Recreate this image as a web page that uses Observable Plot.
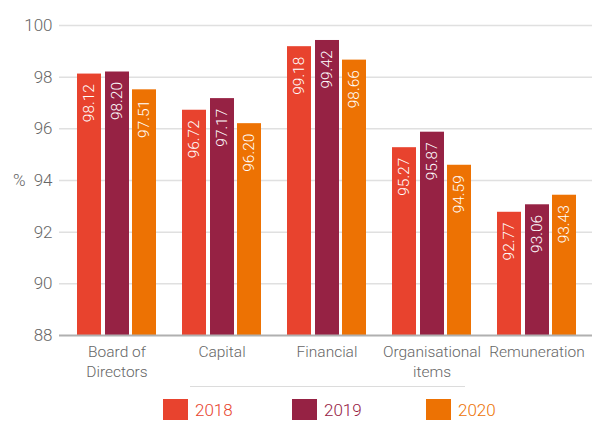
<!DOCTYPE html>
<html>
<head>
<meta charset="utf-8">
<script src="https://cdn.jsdelivr.net/npm/d3@7"></script>
<script src="https://cdn.jsdelivr.net/npm/@observablehq/plot@0.6"></script>
<style>
  body { margin: 0; background: #fff; font-family: Roboto, "Liberation Sans", sans-serif; }
  #legend { position: relative; width: 592px; height: 35px; }
  #legend .sep { position: absolute; left: 190px; top: 0; width: 275px; border-top: 1.5px solid #dcdcdc; }
  #legend .item { position: absolute; top: 13px; display: flex; align-items: center; font-size: 17px; font-weight: 300; }
  #legend .sw { width: 25px; height: 21px; margin-right: 7px; }
</style>
</head>
<body>
<div id="chart"></div>
<div id="legend"><div class="sep"></div></div>
<script>
const categories = ["Board of Directors", "Capital", "Financial", "Organisational items", "Remuneration"];
const tickLabels = ["Board of\nDirectors", "Capital", "Financial", "Organisational\nitems", "Remuneration"];
const years = ["2018", "2019", "2020"];
const values2018 = [98.12, 96.72, 99.18, 95.27, 92.77];
const values2019 = [98.20, 97.17, 99.42, 95.87, 93.06];
const values2020 = [97.51, 96.20, 98.66, 94.59, 93.43];
const yTicks = [88, 90, 92, 94, 96, 98, 100];
const baseline = 88;
const colors = ["#e8432e", "#962244", "#ed7203"];

const series = [values2018, values2019, values2020];
const rows = [];
years.forEach((yr, i) => categories.forEach((c, j) => rows.push({year: yr, category: c, value: series[i][j]})));

const insets = [[13, 68], [41, 40], [68, 13]];
const font = "Roboto, 'Liberation Sans', sans-serif";

const marks = [
  Plot.ruleY(yTicks.filter(t => t !== baseline), {stroke: "#e0e0e0", strokeWidth: 1.5})
];
years.forEach((yr, i) => {
  const data = rows.filter(r => r.year === yr);
  marks.push(Plot.barY(data, {
    x: "category", y1: () => baseline, y2: "value", fill: colors[i],
    insetLeft: insets[i][0], insetRight: insets[i][1]
  }));
  marks.push(Plot.text(data, {
    x: "category", y: "value", text: d => d.value.toFixed(2),
    rotate: -90, textAnchor: "end", fill: "white", fontSize: 15.5, fontWeight: 300,
    dy: 10, dx: (insets[i][0] - insets[i][1]) / 2
  }));
});
marks.push(Plot.ruleY([baseline], {stroke: "#b0b0b0", strokeWidth: 2}));
marks.push(Plot.axisY(yTicks, {
  tickSize: 0, tickPadding: 7, label: null, fontSize: 17, fill: "#666", fontWeight: 300,
  tickFormat: d => String(d)
}));
marks.push(Plot.text(categories, {
  x: d => d, text: (d, i) => tickLabels[i], frameAnchor: "bottom", lineAnchor: "top",
  dy: 7, fill: "#666", fontSize: 15.5, fontWeight: 300, lineHeight: 1.3
}));
marks.push(Plot.text(["%"], {
  frameAnchor: "left", y: () => 94, text: d => d, dx: -34, textAnchor: "end",
  fill: "#666", fontSize: 17, fontWeight: 300
}));

const chart = Plot.plot({
  width: 592,
  height: 386,
  marginTop: 25,
  marginBottom: 51,
  marginLeft: 59,
  marginRight: 0,
  style: {fontFamily: font, fontSize: "16px", color: "#666", background: "#fff", fontWeight: 300},
  x: {type: "band", domain: categories, range: [64, 589], padding: 0, axis: null},
  y: {domain: [88, 100], axis: null},
  marks
});
document.getElementById("chart").appendChild(chart);

const legend = document.getElementById("legend");
const lx = [163, 292, 426];
years.forEach((yr, i) => {
  const it = document.createElement("div");
  it.className = "item";
  it.style.left = lx[i] + "px";
  it.style.color = colors[i];
  it.innerHTML = `<div class="sw" style="background:${colors[i]}"></div><span>${yr}</span>`;
  legend.appendChild(it);
});
</script>
</body>
</html>
